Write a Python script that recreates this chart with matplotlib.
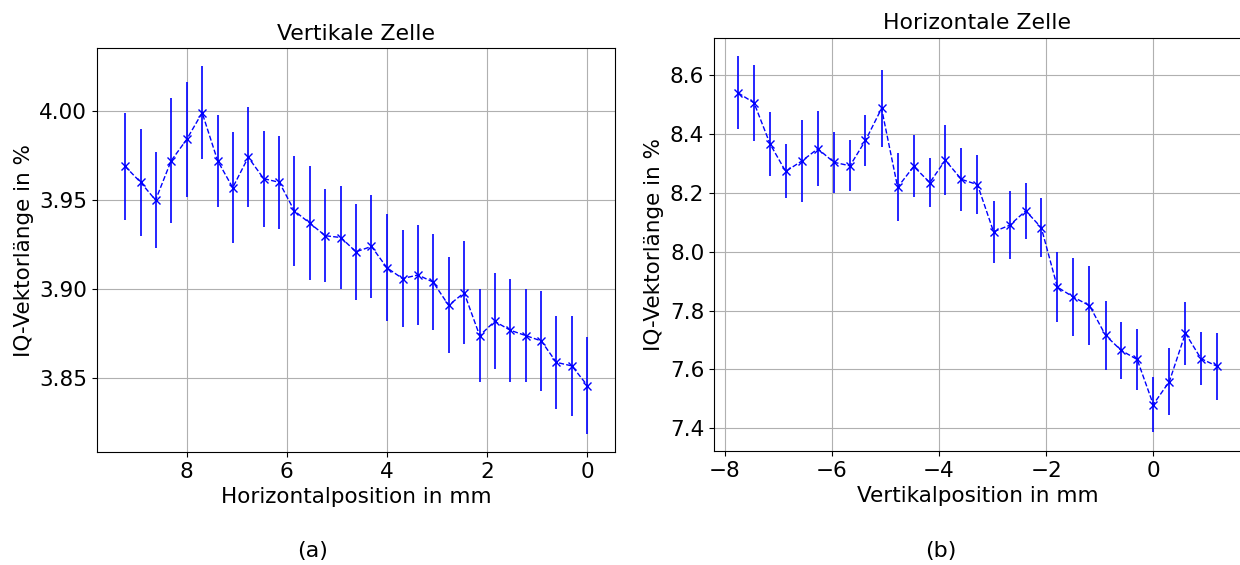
import matplotlib
matplotlib.use('Agg')
import matplotlib.pyplot as plt

# (a) vertikale Zelle
h_pos = [9.23, 8.92, 8.62, 8.31, 8.00, 7.69, 7.38, 7.08, 6.77, 6.46, 6.15,
         5.85, 5.54, 5.23, 4.92, 4.62, 4.31, 4.00, 3.69, 3.38, 3.08, 2.77,
         2.46, 2.15, 1.85, 1.54, 1.23, 0.92, 0.62, 0.31, 0.00]
h_val = [3.969, 3.960, 3.950, 3.972, 3.984, 3.999, 3.972, 3.957, 3.974, 3.962, 3.960,
         3.944, 3.937, 3.930, 3.929, 3.921, 3.924, 3.912, 3.906, 3.908, 3.904, 3.891,
         3.898, 3.874, 3.882, 3.877, 3.874, 3.871, 3.859, 3.857, 3.846]
h_err = [0.030, 0.030, 0.027, 0.035, 0.032, 0.026, 0.026, 0.031, 0.028, 0.027, 0.026,
         0.031, 0.032, 0.026, 0.029, 0.027, 0.029, 0.030, 0.027, 0.028, 0.027, 0.027,
         0.029, 0.026, 0.027, 0.029, 0.026, 0.028, 0.026, 0.028, 0.027]

# (b) horizontale Zelle
v_pos = [-7.75, -7.45, -7.15, -6.86, -6.56, -6.26, -5.96, -5.66, -5.37, -5.07, -4.77,
         -4.47, -4.17, -3.88, -3.58, -3.28, -2.98, -2.68, -2.38, -2.09, -1.79, -1.49,
         -1.19, -0.89, -0.60, -0.30, 0.00, 0.30, 0.60, 0.89, 1.19]
v_val = [8.540, 8.506, 8.366, 8.273, 8.308, 8.350, 8.304, 8.292, 8.378, 8.487, 8.219,
         8.290, 8.235, 8.311, 8.246, 8.228, 8.068, 8.090, 8.139, 8.082, 7.880, 7.846,
         7.817, 7.716, 7.665, 7.634, 7.481, 7.559, 7.723, 7.637, 7.611]
v_err = [0.124, 0.129, 0.108, 0.092, 0.138, 0.127, 0.104, 0.087, 0.086, 0.130, 0.116,
         0.105, 0.083, 0.118, 0.108, 0.100, 0.105, 0.115, 0.095, 0.100, 0.119, 0.132,
         0.134, 0.117, 0.098, 0.104, 0.094, 0.114, 0.107, 0.089, 0.113]

plt.rcParams['font.size'] = 15.5

fig = plt.figure(figsize=(12.4, 5.65), dpi=100)
ax1 = fig.add_axes([0.0782, 0.200, 0.4177, 0.715])
ax2 = fig.add_axes([0.5758, 0.2018, 0.4250, 0.7318])

ax1.errorbar(h_pos, h_val, yerr=h_err, fmt='x--', color='blue', ecolor='blue',
             elinewidth=1.2, linewidth=1, markersize=6)
ax1.set_xlim(9.79, -0.55)
ax1.set_title('Vertikale Zelle', fontsize=15.8)
ax1.set_xlabel('Horizontalposition in mm')
ax1.set_ylabel('IQ-Vektorlänge in %')
ax1.set_yticks([3.85, 3.90, 3.95, 4.00])
ax1.grid(True)

ax2.errorbar(v_pos, v_val, yerr=v_err, fmt='x--', color='blue', ecolor='blue',
             elinewidth=1.2, linewidth=1, markersize=6)
ax2.set_title('Horizontale Zelle', fontsize=15.8)
ax2.set_xlabel('Vertikalposition in mm')
ax2.set_ylabel('IQ-Vektorlänge in %')
ax2.grid(True)

fig.text(312.5 / 1240, 1 - 551.5 / 565, '(a)', ha='center', va='center', fontsize=16)
fig.text(941 / 1240, 1 - 551.5 / 565, '(b)', ha='center', va='center', fontsize=16)

fig.savefig('out.png', dpi=100)
